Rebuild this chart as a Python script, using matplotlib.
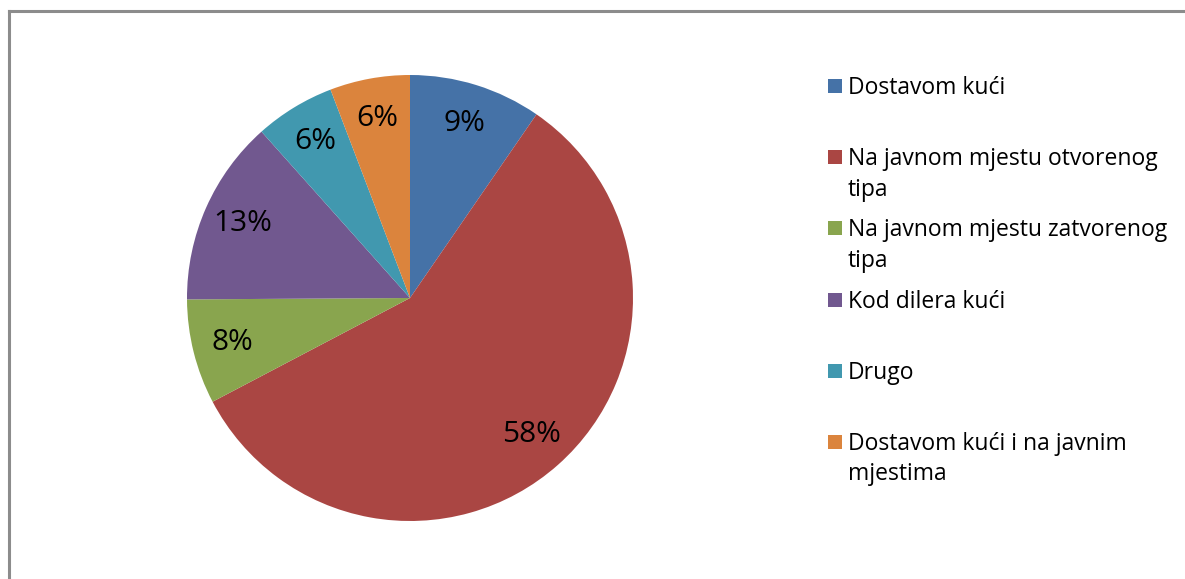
import numpy as np
import matplotlib.pyplot as plt
from matplotlib.lines import Line2D
from matplotlib.patches import Rectangle

plt.rcParams['font.family'] = ['Open Sans', 'DejaVu Sans']

# data (share in %)
categories = ['Dostavom kući',
              'Na javnom mjestu otvorenog\ntipa',
              'Na javnom mjestu zatvorenog\ntipa',
              'Kod dilera kući',
              'Drugo',
              'Dostavom kući i na javnim\nmjestima']
shares = [9.6, 57.7, 7.6, 13.5, 5.8, 5.8]
pct_labels = ['9%', '58%', '8%', '13%', '6%', '6%']
colors = ['#4572A7', '#AA4643', '#89A54E', '#71588F', '#4198AF', '#DB843D']

W, H = 1185, 579
fig = plt.figure(figsize=(W / 100, H / 100), dpi=100)

# pie: centre (410, 298) px, radius 223 px
cx, cy, r = 410, 298, 223
ax = fig.add_axes([(cx - r) / W, (H - cy - r) / H, 2 * r / W, 2 * r / H])
wedges, _ = ax.pie(shares, colors=colors, startangle=90, counterclock=False,
                   radius=1, wedgeprops=dict(linewidth=0))
for w, txt in zip(wedges, pct_labels):
    ang = np.deg2rad((w.theta1 + w.theta2) / 2)
    ax.text(0.82 * np.cos(ang), 0.82 * np.sin(ang), txt, ha='center',
            va='center', fontsize=21.5, color='black')
ax.set_xlim(-1, 1)
ax.set_ylim(-1, 1)
ax.set_aspect('equal')
ax.axis('off')

# legend drawn by hand so the square sits at the first text line
y0, step = 86, 71.2
for i, (lab, col) in enumerate(zip(categories, colors)):
    y = y0 + i * step
    fig.add_artist(Rectangle((828 / W, 1 - (y + 7) / H), 14 / W, 14 / H,
                             transform=fig.transFigure, facecolor=col,
                             edgecolor='none'))
    fig.text(848 / W, 1 - (y - 10) / H, lab, ha='left', va='top',
             fontsize=16.5, linespacing=1.35, color='black')

# chart area border (top and left visible)
fig.add_artist(Line2D([9 / W, 1], [1 - 10.5 / H] * 2, transform=fig.transFigure,
                      color='#8c8c8c', lw=2.2))
fig.add_artist(Line2D([9 / W] * 2, [0, 1 - 10.5 / H], transform=fig.transFigure,
                      color='#8c8c8c', lw=2.2))

fig.savefig('out.png', dpi=100)
